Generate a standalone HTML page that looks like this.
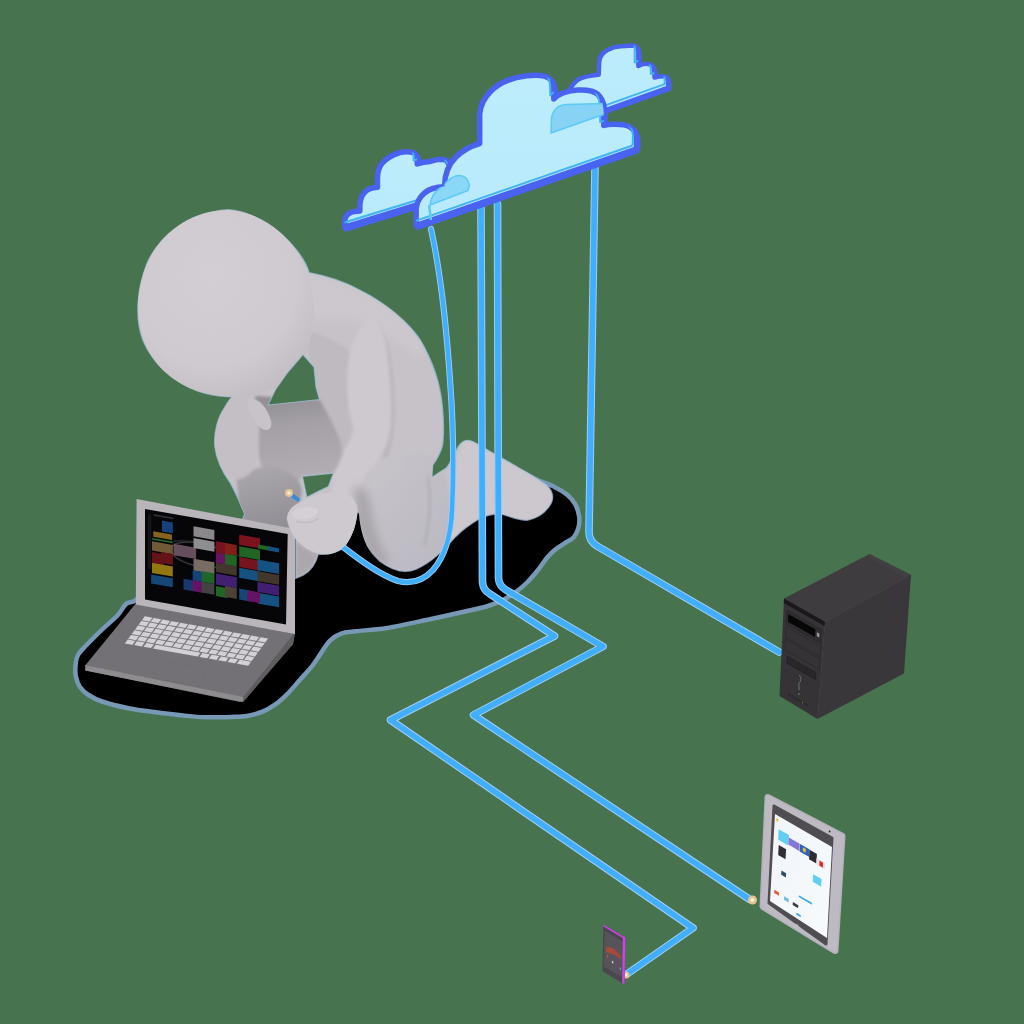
<!DOCTYPE html>
<html><head><meta charset="utf-8"><title>Cloud computing</title>
<style>
html,body{margin:0;padding:0;background:#48734F;width:1024px;height:1024px;overflow:hidden;font-family:"Liberation Sans",sans-serif;}
svg{position:absolute;left:0;top:0;display:block}
</style></head>
<body>
<svg width="1024" height="1024" viewBox="0 0 1024 1024">
<defs>
  <radialGradient id="gHead" cx="0.42" cy="0.35" r="0.75">
    <stop offset="0" stop-color="#d3ced4"/>
    <stop offset="0.65" stop-color="#cfcad0"/>
    <stop offset="1" stop-color="#bfbac0"/>
  </radialGradient>
  <linearGradient id="gBelly" x1="0" y1="0" x2="0.15" y2="1">
    <stop offset="0" stop-color="#8e8b91"/>
    <stop offset="0.4" stop-color="#a4a0a6"/>
    <stop offset="1" stop-color="#b0acb2"/>
  </linearGradient>
  <linearGradient id="gThigh" x1="0" y1="0" x2="1" y2="1">
    <stop offset="0" stop-color="#c9c5cb"/>
    <stop offset="1" stop-color="#b9b7c1"/>
  </linearGradient>
  <linearGradient id="gLThigh" x1="0" y1="0" x2="0.2" y2="1">
    <stop offset="0" stop-color="#aca8ae"/>
    <stop offset="1" stop-color="#8e8b92"/>
  </linearGradient>
  <linearGradient id="gCloud" x1="0" y1="0" x2="0" y2="1">
    <stop offset="0" stop-color="#bdedfc"/>
    <stop offset="1" stop-color="#b8eafc"/>
  </linearGradient>
  <linearGradient id="gTabScr" x1="0" y1="0" x2="1" y2="1">
    <stop offset="0" stop-color="#f0f5fa"/>
    <stop offset="1" stop-color="#f8fafc"/>
  </linearGradient>
</defs>
<rect width="1024" height="1024" fill="#48734F"/>
<path id="shadow" d="M150.0,585.0 C139.3,591.7 140.0,596.8 136.0,600.0 C132.0,603.2 129.1,601.4 126.0,604.0 C122.9,606.6 121.6,611.1 117.4,615.5 C113.2,619.9 106.0,625.8 101.0,630.6 C96.0,635.4 91.1,640.2 87.3,644.3 C83.5,648.4 80.0,651.4 78.0,655.0 C76.0,658.6 75.8,662.3 75.5,666.0 C75.2,669.7 75.2,673.5 76.0,677.0 C76.8,680.5 77.9,684.0 80.0,687.0 C82.1,690.0 84.8,692.6 88.5,695.0 C92.2,697.4 95.3,699.3 102.0,701.5 C108.7,703.7 119.5,706.4 128.4,708.2 C137.3,710.0 146.6,711.1 155.7,712.3 C164.8,713.5 174.8,714.7 183.0,715.5 C191.2,716.3 197.0,717.0 205.0,717.2 C213.0,717.4 224.0,717.1 231.0,716.9 C238.0,716.7 241.8,716.9 247.0,716.0 C252.2,715.1 257.8,713.6 262.5,711.7 C267.2,709.8 270.8,707.7 275.0,704.7 C279.2,701.7 283.3,697.9 287.5,693.8 C291.7,689.6 295.8,684.4 300.0,679.7 C304.2,675.0 308.8,670.3 312.5,665.6 C316.2,660.9 319.1,655.8 322.0,651.6 C324.9,647.4 326.8,643.6 330.0,640.6 C333.2,637.6 336.7,635.2 341.0,633.6 C345.3,632.0 348.3,632.1 356.0,631.2 C363.7,630.3 374.5,630.0 387.0,628.0 C399.5,626.0 417.7,621.8 431.0,619.0 C444.3,616.2 457.5,613.2 467.0,611.0 C476.5,608.8 481.9,607.9 488.0,606.0 C494.1,604.1 498.7,602.1 503.4,599.7 C508.1,597.4 512.1,594.8 516.0,591.9 C519.9,589.0 523.3,586.1 527.0,582.5 C530.7,578.9 534.6,574.2 538.0,570.0 C541.4,565.8 544.4,560.9 547.2,557.5 C550.0,554.1 552.1,552.1 555.0,549.7 C557.9,547.4 561.3,545.5 564.4,543.4 C567.5,541.3 571.4,539.8 573.8,537.2 C576.1,534.6 577.5,531.2 578.4,527.8 C579.3,524.4 579.7,520.8 579.2,516.9 C578.7,513.0 577.2,508.0 575.3,504.4 C573.3,500.8 570.9,497.9 567.5,495.0 C564.1,492.1 559.7,489.5 555.0,487.2 C550.3,484.9 548.6,483.9 539.4,481.0 C530.2,478.1 523.2,466.8 500.0,470.0 C476.8,473.2 433.3,490.0 400.0,500.0 C366.7,510.0 333.3,520.0 300.0,530.0 C266.7,540.0 225.0,550.8 200.0,560.0 C175.0,569.2 160.7,578.3 150.0,585.0 Z" fill="#000" stroke="#7799b6" stroke-width="4.5" stroke-linejoin="round"/>
<clipPath id="figClip"><path d="M228,210 C245,211 265,220 282,235 C298,250 306,262 309,273 C325,276 345,282 361,291 C385,303 408,322 420,340 C433,362 440,385 442,405 C443.5,420 443.5,435 442.5,444 C441,452 436,460 432.5,465 L431.7,478 C437,474 442,471 446,468.5 C450,465 454,455 458.3,447 C461,443 464,440.6 467,440.6 C471,440.6 476,443 480,446 C490,452 500,457 510,463 C522,470 535,477 546,485 C552,490 554,497 551,503 C546,512 538,518 527,520 C518,520 510,516 502,514 C494,513 487,515 480,518 C470,524 462,530 456,536 C445,548 432,562 416,569 C404,574 392,570 380,561 C370,552 363,540 360,528 L358,514 C357,530 352,540 344,547 C336,553 328,555 318,554 C316,562 312,570 303,575 L296,578 L296,536 L240,526 L245,514 C241,505 236,492 230.4,482.7 C224,474 217,462 215,446 C214,432 218,418 224,409 C227,404 230,399 233,396 C222,397 210,395 198,391 C174,382 153,364 143,340 C135,318 137,290 147,264 C160,234 190,213 228,210 Z"/></clipPath>
<filter id="fBlur" x="-10%" y="-10%" width="120%" height="120%"><feGaussianBlur stdDeviation="1.6"/></filter>
<filter id="fBlur3" x="-20%" y="-20%" width="140%" height="140%"><feGaussianBlur stdDeviation="4"/></filter>
<path d="M228,210 C245,211 265,220 282,235 C298,250 306,262 309,273 C325,276 345,282 361,291 C385,303 408,322 420,340 C433,362 440,385 442,405 C443.5,420 443.5,435 442.5,444 C441,452 436,460 432.5,465 L431.7,478 C437,474 442,471 446,468.5 C450,465 454,455 458.3,447 C461,443 464,440.6 467,440.6 C471,440.6 476,443 480,446 C490,452 500,457 510,463 C522,470 535,477 546,485 C552,490 554,497 551,503 C546,512 538,518 527,520 C518,520 510,516 502,514 C494,513 487,515 480,518 C470,524 462,530 456,536 C445,548 432,562 416,569 C404,574 392,570 380,561 C370,552 363,540 360,528 L358,514 C357,530 352,540 344,547 C336,553 328,555 318,554 C316,562 312,570 303,575 L296,578 L296,536 L240,526 L245,514 C241,505 236,492 230.4,482.7 C224,474 217,462 215,446 C214,432 218,418 224,409 C227,404 230,399 233,396 C222,397 210,395 198,391 C174,382 153,364 143,340 C135,318 137,290 147,264 C160,234 190,213 228,210 Z" fill="#c6c2c8" stroke="#a6c2de" stroke-width="1.8" stroke-opacity="0.75"/>
<g clip-path="url(#figClip)"><g filter="url(#fBlur)">
<path d="M300,270 C330,272 370,290 400,315 C420,335 428,350 420,360 C400,340 375,325 350,320 C330,318 310,320 300,320 Z" fill="#ccc8cd" filter="url(#fBlur3)"/>
<path d="M305,330 C325,335 345,345 352,355 C346,370 346,385 348,400 C350,415 353,425 352,435 L345,450 L336,472 L320,480 L318,400 L310,360 Z" fill="#bebac0"/>
<path d="M255,396 L319.5,399.5 C326,410 334,425 340,440 C344,452 340,464 334,473 L302.4,476.3 L300,480 C290,478 276,474 262,468 C256,450 254,425 255,396 Z" fill="url(#gBelly)"/>
<path d="M377.5,319 C384,330 387,345 388,360 C390,380 391,400 391,425 C389,440 385,450 380,458 L388,458 C394,440 396,420 395,400 C394,370 390,340 377.5,319 Z" fill="#bbb7bd"/>
<path d="M372,315 C380,328 386,340 387,354 C389,370 391,390 391,405 C391,425 389,440 383,452 C377,462 370,470 366,474 C362,482 359,490 358,494 L353,510 L333,500 C332,490 332,480 333.5,473.2 C338,466 342,458 345,450 C350,440 354,432 355,430 C351,420 348,410 348,400 C347,390 346,375 349,357 C352,340 360,325 372,315 Z" fill="#cdc9ce"/>
<path d="M392,458 C410,450 430,452 442,460 C448,480 452,510 452,540 C440,556 430,565 416,569 C404,574 392,570 380,561 C370,552 363,540 360,528 L358,505 C365,490 375,470 392,458 Z" fill="url(#gThigh)"/>
<path d="M354,486 C362,486 368,492 370,502 C373,522 378,542 390,562 L376,566 C366,552 360,538 356,520 Z" fill="#a9a5ab" filter="url(#fBlur3)"/>
<path d="M428,476 C431,498 431,520 424,546" fill="none" stroke="#b2afb6" stroke-width="2.5"/>
<path d="M463.4,441.7 C470,441 476,443 480,446 C490,452 500,457 510,463 C522,470 535,477 546,485 C552,490 554,497 551,503 C546,512 538,518 527,520 C518,520 510,516 502,514 C494,513 487,515 480,518 C470,524 462,530 456,536 L446,544 C452,520 452,490 456,460 Z" fill="#ccc8cd"/>
<path d="M236,476 C250,468 265,465 280,469 C292,473 300,478 302,490 L300,503 C294,507 290,512 288,520 L296,540 L236,530 C240,505 238,490 236,476 Z" fill="url(#gLThigh)"/>
<path d="M296,540 C305,550 318,554 318,554 C316,562 312,570 303,575 L296,578 Z" fill="#aca7ad"/>
</g></g>
<g clip-path="url(#figClip)"><g filter="url(#fBlur)">
<path d="M233,394 C245,394 256,398 262,405 C260,420 259,435 258.5,448 C258,460 255,470 248,475 C243,479 238,480 234,479 C226,474 210,460 206,446 C205,430 210,412 233,394 Z" fill="#c3bfc5"/>
</g></g>
<path d="M248,399 C256,398 264,404 268,413 C272,421 273,428 268,430 C262,431 256,424 252,416 C249,410 246,403 248,399 Z" fill="#c7c3c8"/>
<path d="M299,503 C310,496 325,492 340,492 C352,494 358,503 357.6,512 C356,525 353,535 346,545 C340,551 333,554 326,554 C318,554 308,551 300.5,543.6 C294,538 289,530 287,518 C288,511 292,506 299,503 Z" fill="#cdc9ce"/>
<path d="M292,512 C300,506 312,506 318,510 C318,516 310,520 300,519 C294,518 291,516 292,512 Z" fill="#d4d0d5"/>
<path d="M228,210 C262,212 292,236 306,268 C316,292 316,322 309,345 C300,370 282,388 258,394 C238,399 215,397 195,390 C170,381 151,362 143,338 C135,314 137,288 147,264 C160,234 190,210 228,210 Z" fill="url(#gHead)"/>
<path d="M303,354.5 L314,367 L316,387 L319.5,399.5 L268,405 L275.5,389.5 L288,372 Z" fill="#48734F" stroke="#a6c2de" stroke-width="1.2" stroke-opacity="0.7" stroke-linejoin="round"/>
<path d="M302.4,476.3 L333.5,473.2 L328.4,486.5 L318,491.6 L306.8,497.3 Z" fill="#48734F" stroke="#a6c2de" stroke-width="1.2" stroke-opacity="0.7" stroke-linejoin="round"/>
<path d="M357.6,512 L359,514 C360,530 365,545 372,556 L355,556 L346,545 C353,535 356,525 357.6,512 Z" fill="#000"/>
<g fill="none" stroke-linejoin="round" stroke-linecap="round">
<path d="M343,547 C360,560 380,575 398,581 C410,584 422,582 433,570 C445,556 451,535 452,510 C454,470 453,420 450,380 C446,320 440,270 431,229" stroke="#9fcdf5" stroke-width="6.2"/>
<path d="M481,208 L482.5,582 Q483,590 490,594 L554.5,636 L390.5,720 L693,928 L627,974" stroke="#9fcdf5" stroke-width="7.6"/>
<path d="M497.5,204 L498.5,578 Q499,586 506,590 L603,646.5 L473.5,715 L749,899" stroke="#9fcdf5" stroke-width="7.6"/>
<path d="M595,168 L589,532 Q589,541 597,546 L779,652" stroke="#9fcdf5" stroke-width="7.6"/>
<path d="M343,547 C360,560 380,575 398,581 C410,584 422,582 433,570 C445,556 451,535 452,510 C454,470 453,420 450,380 C446,320 440,270 431,229" stroke="#41aefb" stroke-width="4.4"/>
<path d="M481,208 L482.5,582 Q483,590 490,594 L554.5,636 L390.5,720 L693,928 L627,974" stroke="#41aefb" stroke-width="5.6"/>
<path d="M497.5,204 L498.5,578 Q499,586 506,590 L603,646.5 L473.5,715 L749,899" stroke="#41aefb" stroke-width="5.6"/>
<path d="M595,168 L589,532 Q589,541 597,546 L779,652" stroke="#41aefb" stroke-width="5.6"/>
</g>
<path d="M289,493 L299,500.5" stroke="#2f8de0" stroke-width="4"/>
<circle cx="289" cy="493" r="4" fill="#e7c48f"/><circle cx="289" cy="493" r="1.6" fill="#fff6e0"/>
<circle cx="752.5" cy="900" r="4.5" fill="#e7c48f"/><circle cx="752.5" cy="900" r="1.8" fill="#fff6e0"/>
<circle cx="626" cy="975" r="3.5" fill="#e7c48f"/><circle cx="626" cy="975" r="1.4" fill="#fff6e0"/>
<g id="laptop">
<path d="M138,600.7 L295,632 L293,644 L243.3,701 L240,702 L85.4,670.6 L85.4,665.2 Z" fill="#737175"/>
<path d="M85.4,665.2 L243.3,697 L243.3,702 L85.4,670.6 Z" fill="#8e8c8f"/>
<path d="M243.3,697 L295,632 L293,644 L243.3,702 Z" fill="#5f5d60"/>
<g transform="matrix(1.245,0.225,-0.205,0.279,144.5,615.8)">
<rect x="0" y="0" width="100" height="100" fill="#7a787c"/>
<rect x="0.5" y="1.5" width="6.1" height="13.7" fill="#d3d1d5"/>
<rect x="7.6" y="1.5" width="6.1" height="13.7" fill="#d3d1d5"/>
<rect x="14.8" y="1.5" width="6.1" height="13.7" fill="#d3d1d5"/>
<rect x="21.9" y="1.5" width="6.1" height="13.7" fill="#d3d1d5"/>
<rect x="29.1" y="1.5" width="6.1" height="13.7" fill="#d3d1d5"/>
<rect x="36.2" y="1.5" width="6.1" height="13.7" fill="#d3d1d5"/>
<rect x="43.4" y="1.5" width="6.1" height="13.7" fill="#d3d1d5"/>
<rect x="50.5" y="1.5" width="6.1" height="13.7" fill="#d3d1d5"/>
<rect x="57.6" y="1.5" width="6.1" height="13.7" fill="#d3d1d5"/>
<rect x="64.8" y="1.5" width="6.1" height="13.7" fill="#d3d1d5"/>
<rect x="71.9" y="1.5" width="6.1" height="13.7" fill="#d3d1d5"/>
<rect x="79.1" y="1.5" width="6.1" height="13.7" fill="#d3d1d5"/>
<rect x="86.2" y="1.5" width="6.1" height="13.7" fill="#d3d1d5"/>
<rect x="93.4" y="1.5" width="6.1" height="13.7" fill="#d3d1d5"/>
<rect x="0.5" y="18.2" width="6.1" height="13.7" fill="#d3d1d5"/>
<rect x="7.6" y="18.2" width="6.1" height="13.7" fill="#d3d1d5"/>
<rect x="14.8" y="18.2" width="6.1" height="13.7" fill="#d3d1d5"/>
<rect x="21.9" y="18.2" width="6.1" height="13.7" fill="#d3d1d5"/>
<rect x="29.1" y="18.2" width="6.1" height="13.7" fill="#d3d1d5"/>
<rect x="36.2" y="18.2" width="6.1" height="13.7" fill="#d3d1d5"/>
<rect x="43.4" y="18.2" width="6.1" height="13.7" fill="#d3d1d5"/>
<rect x="50.5" y="18.2" width="6.1" height="13.7" fill="#d3d1d5"/>
<rect x="57.6" y="18.2" width="6.1" height="13.7" fill="#d3d1d5"/>
<rect x="64.8" y="18.2" width="6.1" height="13.7" fill="#d3d1d5"/>
<rect x="71.9" y="18.2" width="6.1" height="13.7" fill="#d3d1d5"/>
<rect x="79.1" y="18.2" width="6.1" height="13.7" fill="#d3d1d5"/>
<rect x="86.2" y="18.2" width="6.1" height="13.7" fill="#d3d1d5"/>
<rect x="93.4" y="18.2" width="6.1" height="13.7" fill="#d3d1d5"/>
<rect x="0.5" y="34.8" width="6.1" height="13.7" fill="#d3d1d5"/>
<rect x="7.6" y="34.8" width="6.1" height="13.7" fill="#d3d1d5"/>
<rect x="14.8" y="34.8" width="6.1" height="13.7" fill="#d3d1d5"/>
<rect x="21.9" y="34.8" width="6.1" height="13.7" fill="#d3d1d5"/>
<rect x="29.1" y="34.8" width="6.1" height="13.7" fill="#d3d1d5"/>
<rect x="36.2" y="34.8" width="6.1" height="13.7" fill="#d3d1d5"/>
<rect x="43.4" y="34.8" width="6.1" height="13.7" fill="#d3d1d5"/>
<rect x="50.5" y="34.8" width="6.1" height="13.7" fill="#d3d1d5"/>
<rect x="57.6" y="34.8" width="6.1" height="13.7" fill="#d3d1d5"/>
<rect x="64.8" y="34.8" width="6.1" height="13.7" fill="#d3d1d5"/>
<rect x="71.9" y="34.8" width="6.1" height="13.7" fill="#d3d1d5"/>
<rect x="79.1" y="34.8" width="6.1" height="13.7" fill="#d3d1d5"/>
<rect x="86.2" y="34.8" width="6.1" height="13.7" fill="#d3d1d5"/>
<rect x="93.4" y="34.8" width="6.1" height="13.7" fill="#d3d1d5"/>
<rect x="0.5" y="51.5" width="6.1" height="13.7" fill="#d3d1d5"/>
<rect x="7.6" y="51.5" width="6.1" height="13.7" fill="#d3d1d5"/>
<rect x="14.8" y="51.5" width="6.1" height="13.7" fill="#d3d1d5"/>
<rect x="21.9" y="51.5" width="6.1" height="13.7" fill="#d3d1d5"/>
<rect x="29.1" y="51.5" width="6.1" height="13.7" fill="#d3d1d5"/>
<rect x="36.2" y="51.5" width="6.1" height="13.7" fill="#d3d1d5"/>
<rect x="43.4" y="51.5" width="6.1" height="13.7" fill="#d3d1d5"/>
<rect x="50.5" y="51.5" width="6.1" height="13.7" fill="#d3d1d5"/>
<rect x="57.6" y="51.5" width="6.1" height="13.7" fill="#d3d1d5"/>
<rect x="64.8" y="51.5" width="6.1" height="13.7" fill="#d3d1d5"/>
<rect x="71.9" y="51.5" width="6.1" height="13.7" fill="#d3d1d5"/>
<rect x="79.1" y="51.5" width="6.1" height="13.7" fill="#d3d1d5"/>
<rect x="86.2" y="51.5" width="6.1" height="13.7" fill="#d3d1d5"/>
<rect x="93.4" y="51.5" width="6.1" height="13.7" fill="#d3d1d5"/>
<rect x="0.5" y="68.2" width="6.1" height="13.7" fill="#d3d1d5"/>
<rect x="7.6" y="68.2" width="6.1" height="13.7" fill="#d3d1d5"/>
<rect x="14.8" y="68.2" width="6.1" height="13.7" fill="#d3d1d5"/>
<rect x="21.9" y="68.2" width="6.1" height="13.7" fill="#d3d1d5"/>
<rect x="29.1" y="68.2" width="6.1" height="13.7" fill="#d3d1d5"/>
<rect x="36.2" y="68.2" width="6.1" height="13.7" fill="#d3d1d5"/>
<rect x="43.4" y="68.2" width="6.1" height="13.7" fill="#d3d1d5"/>
<rect x="50.5" y="68.2" width="6.1" height="13.7" fill="#d3d1d5"/>
<rect x="57.6" y="68.2" width="6.1" height="13.7" fill="#d3d1d5"/>
<rect x="64.8" y="68.2" width="6.1" height="13.7" fill="#d3d1d5"/>
<rect x="71.9" y="68.2" width="6.1" height="13.7" fill="#d3d1d5"/>
<rect x="79.1" y="68.2" width="6.1" height="13.7" fill="#d3d1d5"/>
<rect x="86.2" y="68.2" width="6.1" height="13.7" fill="#d3d1d5"/>
<rect x="93.4" y="68.2" width="6.1" height="13.7" fill="#d3d1d5"/>
<rect x="0.5" y="84.8" width="6.0" height="13.7" fill="#d3d1d5"/>
<rect x="8.0" y="84.8" width="6.0" height="13.7" fill="#d3d1d5"/>
<rect x="15.5" y="84.8" width="6.0" height="13.7" fill="#d3d1d5"/>
<rect x="23.0" y="84.8" width="36.0" height="13.7" fill="#d3d1d5"/>
<rect x="60.5" y="84.8" width="6.0" height="13.7" fill="#d3d1d5"/>
<rect x="68.0" y="84.8" width="6.0" height="13.7" fill="#d3d1d5"/>
<rect x="75.5" y="84.8" width="6.0" height="13.7" fill="#d3d1d5"/>
<rect x="83.0" y="84.8" width="6.0" height="13.7" fill="#d3d1d5"/>
<rect x="90.5" y="84.8" width="9.0" height="13.7" fill="#d3d1d5"/>
</g>
<path d="M164,661 L208,669 L199,687 L153,678 Z" fill="none" stroke="#706e71" stroke-width="0.8"/>
<path d="M136.6,499 L295,529 L295,634 L135.8,604.5 Z" fill="#b9b5ba"/>
<path d="M145,509 L287.7,534 L286,624.5 L145,599.6 Z" fill="#060608"/>
<g transform="matrix(1.427,0.25,0,0.906,145,509)" opacity="0.72">
<ellipse cx="38" cy="40" rx="20" ry="13" fill="none" stroke="#4a4a50" stroke-width="1.6"/>
<path d="M20,30 C40,22 60,28 75,40" fill="none" stroke="#3a3a40" stroke-width="1.2"/>
<rect x="2" y="5" width="2.5" height="60" fill="#1a1a22"/>
<rect x="6" y="4" width="14" height="2" fill="#3a3a44"/>
<rect x="11.9" y="9.4" width="7.6" height="12.1" fill="#1d5aa8"/>
<rect x="5.8" y="23.0" width="13.1" height="6.0" fill="#b8862a"/>
<rect x="4.9" y="30.6" width="14.6" height="1.9" fill="#2f8a35"/>
<rect x="4.9" y="34.3" width="14.6" height="10.2" fill="#9a7a4a"/>
<rect x="4.9" y="46.2" width="8.2" height="11.9" fill="#8a1820"/>
<rect x="11.3" y="44.4" width="8.2" height="11.9" fill="#8a1820"/>
<rect x="4.9" y="58.1" width="14.6" height="11.1" fill="#c8a418"/>
<rect x="4.3" y="71.1" width="15.2" height="10.0" fill="#1b5fa0"/>
<rect x="20.0" y="32.8" width="15.8" height="12.6" fill="#8a6a80"/>
<rect x="34.0" y="9.7" width="14.6" height="11.1" fill="#bdbbbe"/>
<rect x="34.0" y="22.6" width="14.6" height="11.1" fill="#c3c1c4"/>
<rect x="34.0" y="45.5" width="14.6" height="12.9" fill="#a59585"/>
<rect x="27.0" y="69.4" width="8.2" height="11.9" fill="#1d4f94"/>
<rect x="33.4" y="58.5" width="8.2" height="11.0" fill="#1d5aa8"/>
<rect x="39.8" y="57.6" width="8.8" height="11.8" fill="#2b8a35"/>
<rect x="33.4" y="69.5" width="8.2" height="11.9" fill="#8a1a8a"/>
<rect x="39.8" y="69.5" width="8.8" height="11.8" fill="#5a5a5a"/>
<rect x="49.7" y="21.9" width="8.2" height="12.9" fill="#a01828"/>
<rect x="56.1" y="22.0" width="8.2" height="11.9" fill="#b02a20"/>
<rect x="49.7" y="34.7" width="8.2" height="11.0" fill="#8a1a8a"/>
<rect x="56.1" y="33.9" width="8.2" height="11.9" fill="#2a8a30"/>
<rect x="49.7" y="45.7" width="14.6" height="10.2" fill="#5a4a3a"/>
<rect x="49.7" y="57.6" width="14.6" height="12.0" fill="#5a2a9a"/>
<rect x="49.7" y="71.4" width="8.2" height="11.0" fill="#2a8a30"/>
<rect x="56.1" y="69.6" width="8.2" height="11.9" fill="#6a5a4a"/>
<rect x="66.0" y="10.1" width="14.6" height="11.1" fill="#a81828"/>
<rect x="66.0" y="22.9" width="14.6" height="11.1" fill="#2a8a30"/>
<rect x="66.0" y="34.8" width="14.6" height="11.1" fill="#a01828"/>
<rect x="66.0" y="46.7" width="14.6" height="11.1" fill="#1b6fb0"/>
<rect x="78.8" y="34.0" width="15.2" height="11.9" fill="#1b6fb0"/>
<rect x="78.8" y="46.9" width="15.2" height="10.9" fill="#5a4a3a"/>
<rect x="78.8" y="58.8" width="15.2" height="10.9" fill="#5a2a9a"/>
<rect x="78.8" y="70.7" width="15.2" height="11.9" fill="#1b6fb0"/>
<rect x="66.0" y="69.6" width="7.6" height="12.1" fill="#1b5fa0"/>
<rect x="71.8" y="69.9" width="8.8" height="11.8" fill="#8a1a8a"/>
<rect x="79.3" y="17.4" width="8.8" height="4.5" fill="#2a8a30"/>
<rect x="86.3" y="17.3" width="7.6" height="4.8" fill="#1b6fb0"/>

</g>
</g>
<path d="M299,503 C310,496 325,492 340,492 C352,494 358,503 357.6,512 C356,525 353,535 346,545 C340,551 333,554 326,554 C318,554 308,551 300.5,543.6 C294,538 289,530 287,518 C288,511 292,506 299,503 Z" fill="#cdc9ce"/>
<path d="M292,512 C300,506 312,506 318,510 C318,516 310,520 300,519 C294,518 291,516 292,512 Z" fill="#d4d0d5"/>
<path d="M296,521 C303,524 312,523 318,519" fill="none" stroke="#bdb9bf" stroke-width="1.2"/>
<clipPath id="clipC"><path d="M566,124.4 L567,100 C568,94 571,85 577,80.5 C582,77 589,75.3 598.7,74.75 L599.2,62 C599.5,57 602,53 607.5,50 C612,47.5 616,46.5 620.6,46.2 C626,45.8 630,45.5 633.5,45.5 C636,46 638.3,48 638.3,52 L638.3,66 C641,64.5 643,63.75 645.5,63.75 C649,63.8 651.5,64.5 653,66.5 C654.3,68.5 654.5,71 654.5,77.5 C658,76.5 661,76.2 664,76.25 C666,76.5 667.5,78 668,80 C668.3,82 668.3,84.5 668.3,87.7 Z"/></clipPath>
<path d="M566,124.4 L567,100 C568,94 571,85 577,80.5 C582,77 589,75.3 598.7,74.75 L599.2,62 C599.5,57 602,53 607.5,50 C612,47.5 616,46.5 620.6,46.2 C626,45.8 630,45.5 633.5,45.5 C636,46 638.3,48 638.3,52 L638.3,66 C641,64.5 643,63.75 645.5,63.75 C649,63.8 651.5,64.5 653,66.5 C654.3,68.5 654.5,71 654.5,77.5 C658,76.5 661,76.2 664,76.25 C666,76.5 667.5,78 668,80 C668.3,82 668.3,84.5 668.3,87.7 Z" transform="translate(1.0,1.2)" fill="#4a62f0" stroke="#4a62f0" stroke-width="4.5" stroke-linejoin="round"/>
<path d="M566,124.4 L567,100 C568,94 571,85 577,80.5 C582,77 589,75.3 598.7,74.75 L599.2,62 C599.5,57 602,53 607.5,50 C612,47.5 616,46.5 620.6,46.2 C626,45.8 630,45.5 633.5,45.5 C636,46 638.3,48 638.3,52 L638.3,66 C641,64.5 643,63.75 645.5,63.75 C649,63.8 651.5,64.5 653,66.5 C654.3,68.5 654.5,71 654.5,77.5 C658,76.5 661,76.2 664,76.25 C666,76.5 667.5,78 668,80 C668.3,82 668.3,84.5 668.3,87.7 Z" fill="url(#gCloud)" stroke="#4a62f0" stroke-width="4.5" stroke-linejoin="round"/>
<g clip-path="url(#clipC)"><path d="M566,124.4 L567,100 C568,94 571,85 577,80.5 C582,77 589,75.3 598.7,74.75 L599.2,62 C599.5,57 602,53 607.5,50 C612,47.5 616,46.5 620.6,46.2 C626,45.8 630,45.5 633.5,45.5 C636,46 638.3,48 638.3,52 L638.3,66 C641,64.5 643,63.75 645.5,63.75 C649,63.8 651.5,64.5 653,66.5 C654.3,68.5 654.5,71 654.5,77.5 C658,76.5 661,76.2 664,76.25 C666,76.5 667.5,78 668,80 C668.3,82 668.3,84.5 668.3,87.7 Z" transform="translate(-3.6,-3.6)" fill="none" stroke="#3fb4f6" stroke-width="2" stroke-linejoin="round"/></g>
<clipPath id="clipA"><path d="M344.65,227.15 L344.65,220.9 C345,217 346,215.5 348.5,213.8 C350.5,212.3 353.5,211.4 357.1,211.35 L359.85,211 L359.85,205.6 C360,201 361.5,196 364.5,192.5 C367.5,189 371.5,187.5 377.45,187.25 L377.45,178.7 C377.5,172 378.8,167 382.5,162.8 C386.5,158.5 393,154.5 400,152.5 C404,151.5 409,151.4 413,152.5 C415.5,153.5 417.25,156 417.25,160 L417.25,164 C421,162.8 425.5,161.8 429.8,161.55 C434,160.5 437,159.2 441,159.2 C443.5,159.3 445,159.8 446.2,160.35 L452,168 L452,194.1 Z"/></clipPath>
<path d="M344.65,227.15 L344.65,220.9 C345,217 346,215.5 348.5,213.8 C350.5,212.3 353.5,211.4 357.1,211.35 L359.85,211 L359.85,205.6 C360,201 361.5,196 364.5,192.5 C367.5,189 371.5,187.5 377.45,187.25 L377.45,178.7 C377.5,172 378.8,167 382.5,162.8 C386.5,158.5 393,154.5 400,152.5 C404,151.5 409,151.4 413,152.5 C415.5,153.5 417.25,156 417.25,160 L417.25,164 C421,162.8 425.5,161.8 429.8,161.55 C434,160.5 437,159.2 441,159.2 C443.5,159.3 445,159.8 446.2,160.35 L452,168 L452,194.1 Z" transform="translate(1.4,1.6)" fill="#4a62f0" stroke="#4a62f0" stroke-width="5.5" stroke-linejoin="round"/>
<path d="M344.65,227.15 L344.65,220.9 C345,217 346,215.5 348.5,213.8 C350.5,212.3 353.5,211.4 357.1,211.35 L359.85,211 L359.85,205.6 C360,201 361.5,196 364.5,192.5 C367.5,189 371.5,187.5 377.45,187.25 L377.45,178.7 C377.5,172 378.8,167 382.5,162.8 C386.5,158.5 393,154.5 400,152.5 C404,151.5 409,151.4 413,152.5 C415.5,153.5 417.25,156 417.25,160 L417.25,164 C421,162.8 425.5,161.8 429.8,161.55 C434,160.5 437,159.2 441,159.2 C443.5,159.3 445,159.8 446.2,160.35 L452,168 L452,194.1 Z" fill="url(#gCloud)" stroke="#4a62f0" stroke-width="5.5" stroke-linejoin="round"/>
<g clip-path="url(#clipA)"><path d="M344.65,227.15 L344.65,220.9 C345,217 346,215.5 348.5,213.8 C350.5,212.3 353.5,211.4 357.1,211.35 L359.85,211 L359.85,205.6 C360,201 361.5,196 364.5,192.5 C367.5,189 371.5,187.5 377.45,187.25 L377.45,178.7 C377.5,172 378.8,167 382.5,162.8 C386.5,158.5 393,154.5 400,152.5 C404,151.5 409,151.4 413,152.5 C415.5,153.5 417.25,156 417.25,160 L417.25,164 C421,162.8 425.5,161.8 429.8,161.55 C434,160.5 437,159.2 441,159.2 C443.5,159.3 445,159.8 446.2,160.35 L452,168 L452,194.1 Z" transform="translate(-3.6,-3.6)" fill="none" stroke="#3fb4f6" stroke-width="2" stroke-linejoin="round"/></g>
<clipPath id="clipB"><path d="M416,225.6 L416.2,208 C417.5,199 424,191 433,188.5 C437,187.3 441,186.8 444.5,186.5 C444.5,175 448,165 456,157 C463,150 471,146 479.7,143.5 L479.7,114 C480.5,105 485,97 491,91 C499,83 512,77.5 527,75.8 C538,74.6 546,75.5 550,79 C553,82 553.8,87 553.8,92 L553.8,99 C558,94 566,91 577,90 C587,89.5 594,90.5 598,94.5 C602,99 603.8,106 603.8,115 L603.8,125.5 C607,124.5 610,124.2 613,124.2 C620,124 626,124.6 630,127 C634.5,130 636.5,134 636.5,139 L636.5,145 C636.5,148 635.5,149.5 634,149.8 Z"/></clipPath>
<path d="M416,225.6 L416.2,208 C417.5,199 424,191 433,188.5 C437,187.3 441,186.8 444.5,186.5 C444.5,175 448,165 456,157 C463,150 471,146 479.7,143.5 L479.7,114 C480.5,105 485,97 491,91 C499,83 512,77.5 527,75.8 C538,74.6 546,75.5 550,79 C553,82 553.8,87 553.8,92 L553.8,99 C558,94 566,91 577,90 C587,89.5 594,90.5 598,94.5 C602,99 603.8,106 603.8,115 L603.8,125.5 C607,124.5 610,124.2 613,124.2 C620,124 626,124.6 630,127 C634.5,130 636.5,134 636.5,139 L636.5,145 C636.5,148 635.5,149.5 634,149.8 Z" transform="translate(1.4,1.6)" fill="#4a62f0" stroke="#4a62f0" stroke-width="5.5" stroke-linejoin="round"/>
<path d="M416,225.6 L416.2,208 C417.5,199 424,191 433,188.5 C437,187.3 441,186.8 444.5,186.5 C444.5,175 448,165 456,157 C463,150 471,146 479.7,143.5 L479.7,114 C480.5,105 485,97 491,91 C499,83 512,77.5 527,75.8 C538,74.6 546,75.5 550,79 C553,82 553.8,87 553.8,92 L553.8,99 C558,94 566,91 577,90 C587,89.5 594,90.5 598,94.5 C602,99 603.8,106 603.8,115 L603.8,125.5 C607,124.5 610,124.2 613,124.2 C620,124 626,124.6 630,127 C634.5,130 636.5,134 636.5,139 L636.5,145 C636.5,148 635.5,149.5 634,149.8 Z" fill="url(#gCloud)" stroke="#4a62f0" stroke-width="5.5" stroke-linejoin="round"/>
<g clip-path="url(#clipB)"><path d="M416,225.6 L416.2,208 C417.5,199 424,191 433,188.5 C437,187.3 441,186.8 444.5,186.5 C444.5,175 448,165 456,157 C463,150 471,146 479.7,143.5 L479.7,114 C480.5,105 485,97 491,91 C499,83 512,77.5 527,75.8 C538,74.6 546,75.5 550,79 C553,82 553.8,87 553.8,92 L553.8,99 C558,94 566,91 577,90 C587,89.5 594,90.5 598,94.5 C602,99 603.8,106 603.8,115 L603.8,125.5 C607,124.5 610,124.2 613,124.2 C620,124 626,124.6 630,127 C634.5,130 636.5,134 636.5,139 L636.5,145 C636.5,148 635.5,149.5 634,149.8 Z" transform="translate(-3.6,-3.6)" fill="none" stroke="#3fb4f6" stroke-width="2" stroke-linejoin="round"/></g>
<g clip-path="url(#clipB)">
<path d="M551,133 L551.5,118 C553,110 558,105 566,104.5 L605,103.5 L605,114 Z" fill="#86d3f5" stroke="#5ec9f7" stroke-width="1.5" stroke-linejoin="round"/>
<path d="M430,205 C431,197 436,190 443,186 C448,180 452,176 458,175.5 C464,175 468,179 469.4,185 L468,190.5 Z" fill="#8ad7f7" stroke="#5ec9f7" stroke-width="1.5" stroke-linejoin="round"/>
<path d="M429,205 L431,220" stroke="#5ec9f7" stroke-width="2.5"/>
</g>
<g id="tower">
  <path d="M784,598.5 L869.5,554 L911,575 L825,621.7 Z" fill="#3f3c3f"/>
  <path d="M869.5,554 L911,575 L910.5,579 L869,557.5 Z" fill="#434043"/>
  <path d="M784,598.5 L825,621.7 L817.5,719 L779.5,696 Z" fill="#363337"/>
  <path d="M825,621.7 L911,575 L904,673.6 L817.5,719 Z" fill="#3a373b"/>
  <path d="M784,598.5 L825,621.7 L824.6,626 L783.8,603 Z" fill="#1a181b"/>
</g>
<g transform="matrix(0.41,0.232,-0.045,0.975,784,598.5)">
<rect x="8" y="10" width="84" height="14" fill="#302d31" stroke="#242225" stroke-width="0.8"/>
<rect x="12" y="13" width="66" height="8" fill="#070707"/>
<rect x="82" y="15" width="6" height="4" fill="#9a989a"/>
<rect x="8" y="27" width="84" height="11" fill="none" stroke="#262427" stroke-width="0.8"/>
<rect x="8" y="40" width="84" height="11" fill="none" stroke="#262427" stroke-width="0.8"/>
<rect x="14" y="56" width="70" height="7" fill="#2a272b" stroke="#1e1c1f" stroke-width="0.8"/>
<path d="M44,68 C50,68 50,73 46,75 C43,77 46,80 46,83" fill="none" stroke="#8a888a" stroke-width="0.9"/>
<circle cx="46" cy="87" r="1" fill="#8fb0c0"/>
<rect x="20" y="92" width="50" height="3" fill="#2d2b2d"/>
<circle cx="55" cy="93.5" r="1" fill="#c87830"/>
</g>
<path d="M768,797.6 L842,836 L835,950.5 L763,906.5 Z" fill="#b4b1ba" stroke="#b4b1ba" stroke-width="7" stroke-linejoin="round"/>
<path d="M768,797.6 L842,836 L835,950.5 L763,906.5 Z" fill="#bdbac3" stroke="#bdbac3" stroke-width="4" stroke-linejoin="round"/>
<path d="M774,806 L832,838 L826,944 L769,903 Z" fill="#4f4d51" stroke="#4f4d51" stroke-width="3" stroke-linejoin="round"/>
<path d="M775,814 L832,847 L827,938 L770,901 Z" fill="url(#gTabScr)"/>
<circle cx="796.5" cy="926" r="1.7" fill="none" stroke="#c8c6ca" stroke-width="0.7"/>
<circle cx="829.6" cy="831.5" r="0.9" fill="#222"/>
<clipPath id="tabClip"><path d="M775,814 L832,847 L827,938 L770,901 Z"/></clipPath><g clip-path="url(#tabClip)"><g transform="matrix(0.57,0.33,-0.05,0.87,775,814)">
<rect x="7.7" y="14.5" width="18.0" height="12.0" fill="#62cff2"/>
<rect x="25.7" y="17.2" width="19.2" height="8.2" fill="#8478d4"/>
<rect x="45.6" y="17.1" width="16.7" height="8.8" fill="#3060c0"/>
<rect x="50.7" y="19.0" width="5.1" height="4.4" fill="#e8c030"/>
<rect x="62.2" y="17.6" width="12.9" height="10.8" fill="#2c2c32"/>
<rect x="75.0" y="22.1" width="15.4" height="7.5" fill="#ebe2e2"/>
<rect x="80.1" y="23.2" width="6.4" height="5.7" fill="#d03535"/>
<rect x="9.4" y="32.2" width="12.9" height="11.4" fill="#2e2e34"/>
<rect x="16.4" y="58.8" width="8.3" height="4.8" fill="#2e4e6e"/>
<rect x="70.6" y="42.4" width="14.8" height="8.8" fill="#62cff2"/>
<rect x="6.3" y="84.7" width="8.3" height="3.8" fill="#e85a40"/>
<rect x="23.5" y="85.5" width="8.3" height="4.2" fill="#78bce8"/>
<rect x="38.9" y="86.4" width="9.6" height="3.5" fill="#3a3a40"/>
<rect x="48.4" y="74.9" width="23.0" height="2.2" fill="#3aa8f0"/>
<rect x="46.0" y="95.9" width="7.7" height="2.5" fill="#3aa8f0"/>
<circle cx="4.5" cy="5.3" r="1.8" fill="#f0b040"/>
</g></g>
<g transform="matrix(0.22,0.133,-0.008,0.468,603.3,924.4)">
<rect x="0" y="0" width="100" height="100" fill="#4a484d"/>
<rect x="6" y="12" width="84" height="76" fill="#56545a"/>
<path d="M15,45 C30,38 50,36 80,44 L82,52 C60,48 35,50 15,55 Z" fill="#a84a38"/>
<circle cx="22" cy="62" r="3" fill="#c05a40"/>
<circle cx="45" cy="68" r="3" fill="#d8d8d8"/>
<circle cx="80" cy="72" r="3" fill="#5aa0e0"/>
<rect x="0" y="0" width="100" height="4" fill="#d83cf0"/>
<rect x="89" y="0" width="11" height="100" fill="#d83cf0"/>
</g>
</svg>
</body></html>
